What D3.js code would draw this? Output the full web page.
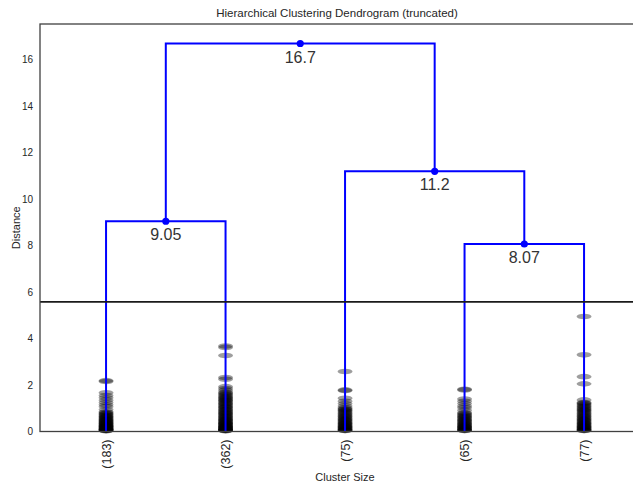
<!DOCTYPE html>
<html>
<head>
<meta charset="utf-8">
<script src="https://cdn.jsdelivr.net/npm/d3@7"></script>
<style>
  html, body { margin: 0; padding: 0; background: #fff; }
  svg { display: block; font-family: "Liberation Sans", Arial, sans-serif; }
</style>
</head>
<body>
<svg id="chart" width="633" height="486"></svg>
<script>
// Leaf clusters left to right (truncated to the last 5 merges)
const leafLabels = ["(183)", "(362)", "(75)", "(65)", "(77)"];
const leafPos = [5, 15, 25, 35, 45];

// Merge links: x coords of the four corners and their heights (scipy-style icoord / dcoord)
const linkX = [
  [5, 5, 15, 15],
  [35, 35, 45, 45],
  [25, 25, 40, 40],
  [10, 10, 32.5, 32.5]
];
const linkY = [
  [0, 9.05, 9.05, 0],
  [0, 8.07, 8.07, 0],
  [0, 11.2, 11.2, 8.07],
  [9.05, 16.7, 16.7, 11.2]
];

// Heights of merges contracted inside each truncated leaf
const contracted183 = [2.19, 2.15, 1.67, 1.55, 1.45, 1.35, 1.25, 1.15, 1.07, 0.95, 0.85, 0.82, 0.78, 0.75, 0.72, 0.69, 0.66, 0.63, 0.61, 0.58, 0.56, 0.53, 0.51, 0.48, 0.46, 0.44, 0.42, 0.40, 0.38, 0.36, 0.34, 0.32, 0.30, 0.28, 0.27, 0.25, 0.24, 0.22, 0.21, 0.19, 0.18, 0.16, 0.15, 0.13, 0.12, 0.11, 0.10, 0.09, 0.08, 0.07, 0.06, 0.05, 0.04, 0.03];
const contracted362 = [3.68, 3.62, 3.27, 2.32, 2.25, 1.93, 1.85, 1.78, 1.70, 1.66, 1.62, 1.58, 1.54, 1.50, 1.46, 1.43, 1.40, 1.36, 1.33, 1.30, 1.26, 1.22, 1.19, 1.15, 1.12, 1.08, 1.05, 1.02, 0.98, 0.95, 0.92, 0.88, 0.85, 0.82, 0.79, 0.76, 0.73, 0.70, 0.67, 0.64, 0.61, 0.58, 0.55, 0.53, 0.50, 0.48, 0.45, 0.43, 0.40, 0.38, 0.36, 0.34, 0.32, 0.30, 0.28, 0.26, 0.24, 0.22, 0.20, 0.19, 0.17, 0.16, 0.14, 0.13, 0.11, 0.10, 0.09, 0.08, 0.07, 0.06, 0.05, 0.04, 0.03];
const contracted75 = [2.58, 1.79, 1.76, 1.43, 1.30, 1.20, 1.10, 1.02, 0.98, 0.95, 0.91, 0.88, 0.84, 0.80, 0.76, 0.72, 0.69, 0.65, 0.62, 0.58, 0.55, 0.52, 0.49, 0.46, 0.43, 0.40, 0.37, 0.35, 0.32, 0.30, 0.27, 0.25, 0.22, 0.20, 0.18, 0.16, 0.14, 0.12, 0.10, 0.08, 0.06, 0.05, 0.04];
const contracted65 = [1.82, 1.79, 1.40, 1.30, 1.20, 1.10, 1.02, 0.92, 0.82, 0.78, 0.74, 0.70, 0.67, 0.63, 0.60, 0.57, 0.53, 0.50, 0.47, 0.44, 0.41, 0.38, 0.35, 0.32, 0.30, 0.27, 0.25, 0.22, 0.20, 0.18, 0.16, 0.14, 0.12, 0.10, 0.08, 0.06, 0.05, 0.04];
const contracted77 = [4.95, 3.30, 2.36, 2.05, 1.36, 1.25, 1.22, 1.18, 1.14, 1.10, 1.06, 1.02, 0.98, 0.95, 0.91, 0.88, 0.84, 0.80, 0.76, 0.72, 0.69, 0.65, 0.62, 0.58, 0.55, 0.52, 0.49, 0.46, 0.43, 0.40, 0.37, 0.35, 0.32, 0.30, 0.27, 0.25, 0.22, 0.20, 0.18, 0.16, 0.14, 0.12, 0.10, 0.08, 0.06, 0.05, 0.04];
const contracted = [contracted183, contracted362, contracted75, contracted65, contracted77];

const yTicks = [0, 2, 4, 6, 8, 10, 12, 14, 16];
const cutHeight = 5.58;

const svg = d3.select("#chart");
const frame = { left: 40, right: 650, top: 24, bottom: 431.5 };

const x = d3.scaleLinear().domain([0, 50]).range([46.3, 643.8]);
const y = d3.scaleLinear().domain([0, 17.54]).range([frame.bottom, frame.top]);

const textColor = "#262626";

const defs = svg.append("defs");
defs.append("filter").attr("id", "soft").attr("x", "-50%").attr("y", "-100%").attr("width", "200%").attr("height", "300%")
  .append("feGaussianBlur").attr("stdDeviation", 0.6);

// Title
svg.append("text")
  .attr("x", (frame.left + frame.right) / 2 - 8)
  .attr("y", 17)
  .attr("text-anchor", "middle")
  .attr("font-size", 11.5)
  .attr("fill", textColor)
  .text("Hierarchical Clustering Dendrogram (truncated)");

// Y axis
const yAxis = d3.axisLeft(y).tickValues(yTicks).tickSize(0).tickPadding(7);
const yg = svg.append("g").attr("transform", `translate(${frame.left},0)`).call(yAxis);
yg.select(".domain").remove();
yg.selectAll("text").attr("font-size", 10).attr("fill", textColor).attr("font-family", "Liberation Sans, Arial, sans-serif");

// X axis with rotated leaf labels
const xAxis = d3.axisBottom(x).tickValues(leafPos).tickFormat((d, i) => leafLabels[i]).tickSize(0);
const xg = svg.append("g").attr("transform", `translate(0,${frame.bottom})`).call(xAxis);
xg.select(".domain").remove();
xg.selectAll("text")
  .attr("font-size", 12.5)
  .attr("fill", textColor)
  .attr("font-family", "Liberation Sans, Arial, sans-serif")
  .attr("transform", "rotate(-90)")
  .attr("text-anchor", "end")
  .attr("x", -8)
  .attr("y", 0)
  .attr("dy", "0.35em");

// Axis titles
svg.append("text")
  .attr("x", (frame.left + frame.right) / 2)
  .attr("y", 481)
  .attr("text-anchor", "middle")
  .attr("font-size", 11)
  .attr("fill", textColor)
  .text("Cluster Size");

svg.append("text")
  .attr("transform", `translate(20,${(frame.top + frame.bottom) / 2}) rotate(-90)`)
  .attr("text-anchor", "middle")
  .attr("font-size", 11)
  .attr("fill", textColor)
  .text("Distance");

// Contracted merge marks
const marks = [];
contracted.forEach((hs, i) => hs.forEach(h => marks.push({ x: leafPos[i], h })));
svg.append("g").selectAll("ellipse").data(marks).join("ellipse")
  .attr("cx", d => x(d.x))
  .attr("cy", d => y(d.h))
  .attr("rx", 7.5)
  .attr("ry", 2.8)
  .attr("fill", "#000")
  .attr("fill-opacity", 0.38)
  .attr("filter", "url(#soft)");

// Dendrogram links
const line = d3.line().x(d => x(d[0])).y(d => y(d[1]));
svg.append("g").selectAll("path").data(linkX.map((xs, i) => xs.map((v, j) => [v, linkY[i][j]])))
  .join("path")
  .attr("d", line)
  .attr("fill", "none")
  .attr("stroke", "#0000ff")
  .attr("stroke-width", 2);

// Merge points with distance labels
const nodes = linkX.map((xs, i) => ({ x: (xs[1] + xs[2]) / 2, h: linkY[i][1] }));
svg.append("g").selectAll("circle").data(nodes).join("circle")
  .attr("cx", d => x(d.x))
  .attr("cy", d => y(d.h))
  .attr("r", 3.6)
  .attr("fill", "#0000ff");
svg.append("g").selectAll("text").data(nodes).join("text")
  .attr("x", d => x(d.x))
  .attr("y", d => y(d.h) + 19)
  .attr("text-anchor", "middle")
  .attr("font-size", 16)
  .attr("fill", "#333")
  .text(d => d3.format(".3~g")(d.h));

// Distance cut line
svg.append("line")
  .attr("x1", frame.left).attr("x2", frame.right)
  .attr("y1", y(cutHeight)).attr("y2", y(cutHeight))
  .attr("stroke", "#1a1a1a")
  .attr("stroke-width", 1.8);

// Axes frame
svg.append("rect")
  .attr("x", frame.left).attr("y", frame.top)
  .attr("width", frame.right - frame.left).attr("height", frame.bottom - frame.top)
  .attr("fill", "none")
  .attr("stroke", "#404040")
  .attr("stroke-width", 1.3);
</script>
</body>
</html>
